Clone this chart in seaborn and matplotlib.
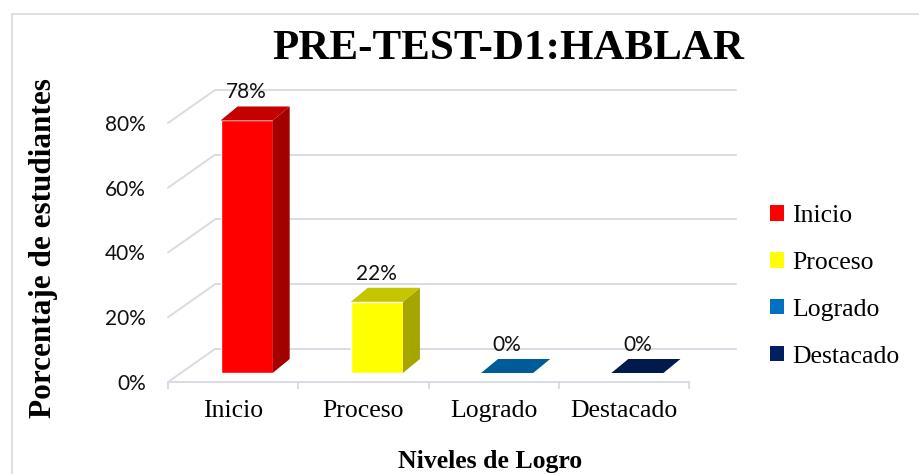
import matplotlib
matplotlib.use("Agg")
import matplotlib.pyplot as plt
from matplotlib.patches import Patch, Polygon, Rectangle
from matplotlib.transforms import Affine2D
import seaborn as sns

niveles = ["Inicio", "Proceso", "Logrado", "Destacado"]
porcentajes = [78, 22, 0, 0]
colores_frente = ["#FF0000", "#FFFF00", "#0070C0", "#002060"]
colores_lado = ["#A30000", "#A6A600", "#004A80", "#001540"]
colores_techo = ["#C40000", "#C6C600", "#005C98", "#001A4D"]
marcas_y = [0, 20, 40, 60, 80]

sns.set_theme(style="white")
plt.rcParams["font.family"] = ["Liberation Serif", "DejaVu Serif"]
plt.rcParams["text.color"] = "black"

W, H = 920, 474
fig = plt.figure(figsize=(W / 100, H / 100), dpi=100)
ax = fig.add_axes([168 / W, (H - 382) / H, (689 - 168) / W, (382 - 123) / H])

sns.barplot(x=niveles, y=porcentajes, hue=niveles, palette=colores_frente,
            width=0.4, saturation=1, legend=False, ax=ax, zorder=3)
ax.set_xlim(-0.5, 3.5)
ax.set_ylim(0, 80)

# pixels per data unit
px_x = (689 - 168) / 4
px_y = (382 - 123) / 80

bx, by = 13.5 / px_x, 9 / px_y      # bar sits in the middle of the floor
ddx, ddy = 17 / px_x, 14 / px_y     # bar depth
Dx, Dy = 47 / px_x, 33 / px_y       # wall depth

gc = "#D9DCE4"

# walls: diagonal on the left, horizontal lines at the back
for v in marcas_y:
    ax.plot([-0.5, -0.5 + Dx], [v, v + Dy], color=gc, lw=1.4, clip_on=False, zorder=0)
    ax.plot([-0.5 + Dx, 3.5 + Dx], [v + Dy, v + Dy], color=gc, lw=1.4, clip_on=False, zorder=0)

shift = Affine2D().translate(bx, by) + ax.transData
bars = sorted(ax.patches, key=lambda p: p.get_x())
for p, lado, techo, val in zip(bars, colores_lado, colores_techo, porcentajes):
    p.set_transform(shift)
    p.set_clip_on(False)
    x0, w, h = p.get_x(), p.get_width(), p.get_height()
    x1 = x0 + w
    side = Polygon([(x1, 0), (x1 + ddx, ddy), (x1 + ddx, h + ddy), (x1, h)],
                   closed=True, facecolor=lado, edgecolor="none", transform=shift,
                   clip_on=False, zorder=3)
    top = Polygon([(x0, h), (x1, h), (x1 + ddx, h + ddy), (x0 + ddx, h + ddy)],
                  closed=True, facecolor=techo, edgecolor="none", transform=shift,
                  clip_on=False, zorder=3)
    ax.add_patch(side)
    ax.add_patch(top)
    ax.annotate(f"{val}%", (x0 + w / 2 + bx, h + by + ddy), xytext=(0, 3),
                textcoords="offset points", ha="center", va="bottom",
                annotation_clip=False, family=["Lato", "DejaVu Sans"],
                fontsize=15, color="#111111")

for s in ["left", "right", "top"]:
    ax.spines[s].set_visible(False)
ax.spines["bottom"].set_color(gc)
ax.spines["bottom"].set_linewidth(1.4)

ax.set_yticks(marcas_y, labels=[f"{v}%" for v in marcas_y])
ax.tick_params(axis="y", length=0, pad=16, labelsize=15, labelcolor="#111111")
for t in ax.get_yticklabels():
    t.set_family(["Lato", "DejaVu Sans"])

ax.set_xticks(range(len(niveles)), labels=niveles)
ax.set_xticks([i - 0.5 for i in range(len(niveles) + 1)], minor=True)
ax.tick_params(axis="x", which="major", length=0, pad=13, labelsize=18.5, labelcolor="black")
ax.tick_params(axis="x", which="minor", length=5, width=1.4, color=gc, direction="out", bottom=True)

ax.set_xlabel("Niveles de Logro", fontsize=18.5, fontweight="bold", color="black")
ax.xaxis.set_label_coords((490 - 168) / 521, -(450 - 382) / 259)
ax.set_ylabel("Porcentaje de estudiantes", fontsize=22.5, fontweight="bold", color="black")
ax.yaxis.set_label_coords(-(168 - 58) / 521, (382 - 248) / 259)

fig.suptitle("PRE-TEST-D1:HABLAR", x=508 / W, y=(H - 49) / H, va="center",
             fontsize=31, fontweight="bold", color="black")

handles = [Patch(facecolor=c, edgecolor="none", label=n) for n, c in zip(niveles, colores_frente)]
fig.legend(handles=handles, loc="upper left", bbox_to_anchor=(770 / W, (H - 205) / H),
           frameon=False, fontsize=18.5, handlelength=0.55, handleheight=0.55,
           handletextpad=0.3, labelspacing=0.97, borderpad=0, borderaxespad=0)

fig.add_artist(Rectangle((12 / W, -0.05), 1.0, (H - 14) / H + 0.05, transform=fig.transFigure,
                         fill=False, edgecolor="#D9D9D9", lw=1.2))

fig.savefig("out.png", dpi=100)
